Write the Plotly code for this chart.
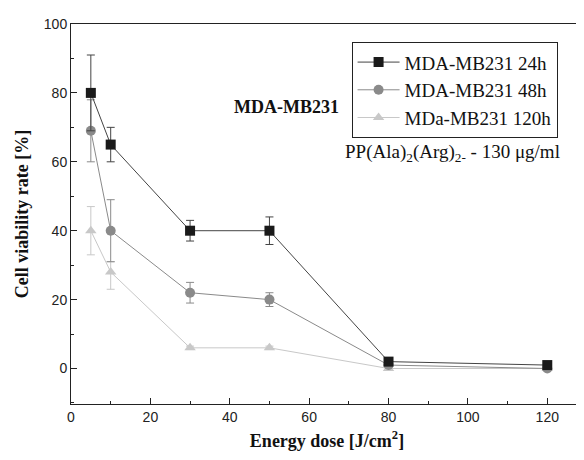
import plotly.graph_objects as go

x = [5, 10, 30, 50, 80, 120]
y24 = [80, 65, 40, 40, 2, 1]
e24_up = [11, 5, 3, 4, 0.5, 0.5]
e24_dn = [11, 5, 3, 4, 0.5, 0.5]
y48 = [69, 40, 22, 20, 1, 0]
e48_up = [9, 9, 3, 2, 0.5, 0.3]
e48_dn = [9, 9, 3, 2, 0.5, 0.3]
y120 = [40, 28, 6, 6, 0, 0]
e120_up = [7, 3, 0.5, 0.5, 0.3, 0.3]
e120_dn = [7, 5, 0.5, 0.5, 0.3, 0.3]
names = ["MDA-MB231 24h", "MDA-MB231 48h", "MDa-MB231 120h"]

fig = go.Figure()
series = [
    (y120, e120_up, e120_dn, names[2], "#c8c8c8", "#c8c8c8", "triangle-up", 2),
    (y48, e48_up, e48_dn, names[1], "#8a8a8a", "#8a8a8a", "circle", 1),
    (y24, e24_up, e24_dn, names[0], "#1a1a1a", "#444444", "square", 0),
]
for yv, eu, ed, nm, mc, lc, sym, rank in series:
    fig.add_trace(go.Scatter(
        x=x, y=yv, name=nm, mode="lines+markers", legendrank=rank,
        line=dict(color=lc, width=1),
        marker=dict(symbol=sym, size=10, color=mc, line=dict(width=0)),
        error_y=dict(type="data", array=eu, arrayminus=ed, color=lc, thickness=1, width=4),
    ))

fig.add_annotation(x=54.3, y=75.9, text="<b>MDA-MB231</b>", showarrow=False,
                   font=dict(family="Liberation Serif", size=18, color="#111"))
fig.add_annotation(x=96.1, y=62.5, text="PP(Ala)<sub>2</sub>(Arg)<sub>2-</sub> - 130 μg/ml",
                   showarrow=False, font=dict(family="Liberation Serif", size=19, color="#111"))

axis_common = dict(showline=True, linecolor="#222", linewidth=1, mirror=True,
                   ticks="inside", ticklen=6, tickcolor="#222", showgrid=False, zeroline=False,
                   tickfont=dict(family="Liberation Sans", size=14, color="#222"),
                   minor=dict(ticks="inside", ticklen=3, tickcolor="#222"))

fig.update_layout(
    width=584, height=460,
    paper_bgcolor="white", plot_bgcolor="white",
    margin=dict(l=63, r=8, t=12, b=64),
    xaxis=dict(range=[0, 129], dtick=20, minor_dtick=10,
               title=dict(text="<b>Energy dose [J/cm<sup>2</sup>]</b>", standoff=10,
                          font=dict(family="Liberation Serif", size=18, color="#111")),
               **axis_common),
    yaxis=dict(range=[-10.3, 100], dtick=20, minor_dtick=10,
               title=dict(text="<b>Cell viability rate [%]</b>", standoff=10,
                          font=dict(family="Liberation Serif", size=18, color="#111")),
               **axis_common),
    legend=dict(x=0.548, y=0.952, xanchor="left", yanchor="top",
                bordercolor="#222", borderwidth=1, bgcolor="white",
                font=dict(family="Liberation Serif", size=19, color="#111"),
                tracegroupgap=0, itemwidth=42),
    showlegend=True,
)

fig.write_html("out.html")
